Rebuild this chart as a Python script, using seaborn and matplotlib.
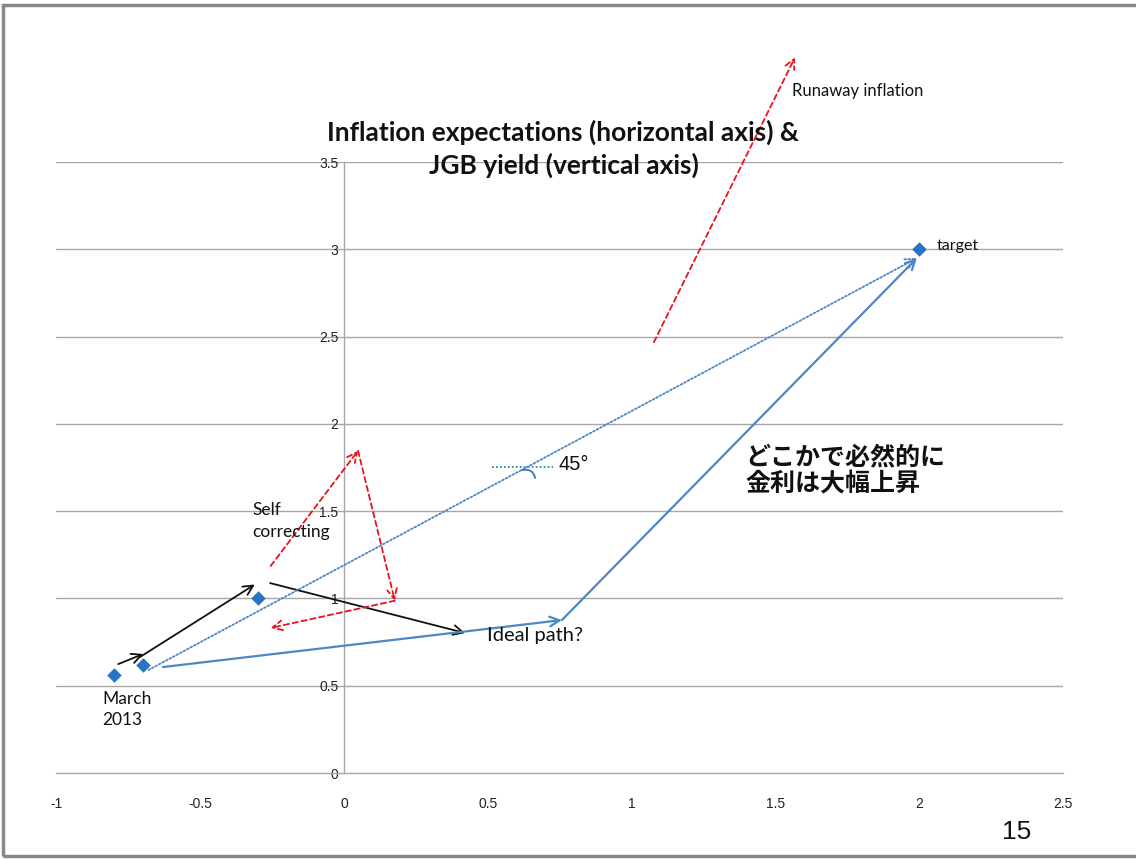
import matplotlib
matplotlib.use("Agg")
import matplotlib.pyplot as plt
import seaborn as sns
import pandas as pd
from matplotlib.patches import Rectangle

# Observed / target points: inflation expectations (x) vs JGB yield (y)
point_x = [-0.8, -0.7, -0.3, 2.0]
point_y = [0.56, 0.62, 1.0, 3.0]

# Black arrows: the stepwise move of expectations and yields
black_start = [(-0.785, 0.624), (-0.71, 0.664), (-0.257, 1.088)]
black_end = [(-0.698, 0.682), (-0.31, 1.08), (0.421, 0.802)]

# Blue solid path: gradual rise, then the jump in yields toward target
blue_path_x = [-0.63, 0.758, 1.993]
blue_path_y = [0.607, 0.876, 2.95]

# Blue dotted 45-degree line toward target
dotted_start = (-0.68, 0.59)
dotted_end = (1.993, 2.95)

# Red dashed arrows: self-correcting loop and runaway inflation
red_start = [(-0.255, 1.186), (0.049, 1.846), (0.177, 0.987), (1.078, 2.468)]
red_end = [(0.049, 1.846), (0.177, 0.987), (-0.255, 0.831), (1.569, 4.10)]

# 45-degree marker
marker45_x = [0.515, 0.727]
marker45_y = [1.752, 1.752]

x_ticks = [-1, -0.5, 0, 0.5, 1, 1.5, 2, 2.5]
x_tick_labels = ["-1", "-0.5", "0", "0.5", "1", "1.5", "2", "2.5"]
y_ticks = [0, 0.5, 1, 1.5, 2, 2.5, 3, 3.5]
y_tick_labels = ["0", "0.5", "1", "1.5", "2", "2.5", "3", "3.5"]

title_lines = ["Inflation expectations (horizontal axis) &", "JGB yield (vertical axis)"]

sns.set_style("white")
plt.rcParams["font.family"] = ["Lato", "DejaVu Sans"]

fig = plt.figure(figsize=(11.36, 8.59), dpi=100)
ax = fig.add_axes([0.0497, 0.1001, 0.8858, 0.7113])

df = pd.DataFrame({"x": point_x, "y": point_y})
sns.scatterplot(data=df, x="x", y="y", marker="D", s=55, color="#2773c4",
                edgecolor="#2773c4", linewidth=0, ax=ax, zorder=5, clip_on=False)

ax.set_xlim(-1, 2.5)
ax.set_ylim(0, 3.5)
ax.set_xticks(x_ticks)
ax.set_xticklabels(x_tick_labels)
ax.set_yticks(y_ticks)
ax.set_yticklabels(y_tick_labels)
ax.set_xlabel("")
ax.set_ylabel("")

grid_col = "#a6a6a6"
for yv in y_ticks[1:]:
    ax.axhline(yv, color=grid_col, lw=1.0, zorder=0)
ax.spines["top"].set_visible(False)
ax.spines["right"].set_visible(False)
ax.spines["left"].set_position(("data", 0))
ax.spines["left"].set_color(grid_col)
ax.spines["bottom"].set_color(grid_col)
ax.spines["left"].set_linewidth(1.0)
ax.spines["bottom"].set_linewidth(1.0)
ax.tick_params(axis="x", direction="out", length=5, width=1, color=grid_col,
               labelsize=10, pad=12, labelcolor="#222222")
ax.tick_params(axis="y", direction="out", length=0, labelsize=10, pad=4,
               labelcolor="#222222")
for lab in ax.get_xticklabels() + ax.get_yticklabels():
    lab.set_family(["Liberation Sans Narrow", "Liberation Sans", "DejaVu Sans"])


def arrow(ax, start, end, color, ls="-", lw=1.3):
    ax.annotate("", xy=end, xytext=start, xycoords="data", textcoords="data",
                annotation_clip=False,
                arrowprops=dict(arrowstyle="->,head_length=0.7,head_width=0.35",
                                color=color, lw=lw, linestyle=ls,
                                shrinkA=0, shrinkB=0))


for s, e in zip(black_start, black_end):
    arrow(ax, s, e, "#111111", lw=1.3)

blue = "#4f86c6"
arrow(ax, (blue_path_x[0], blue_path_y[0]), (blue_path_x[1], blue_path_y[1]), blue, lw=1.6)
arrow(ax, (blue_path_x[1], blue_path_y[1]), (blue_path_x[2], blue_path_y[2]), blue, lw=1.6)

arrow(ax, dotted_start, dotted_end, "#4a86c4", ls=(0, (1, 1.2)), lw=1.3)

for s, e in zip(red_start, red_end):
    arrow(ax, s, e, "#e8121a", ls=(0, (3, 2)), lw=1.3)

ax.plot(marker45_x, marker45_y, color="#2a8a9a", lw=1.3, ls=(0, (1, 1.2)))
ax.annotate("", xy=(0.665, 1.69), xytext=(0.62, 1.735), xycoords="data",
            arrowprops=dict(arrowstyle="-", color="#3a74b8", lw=1.3,
                            connectionstyle="arc3,rad=-0.5", shrinkA=0, shrinkB=0))

# Text annotations
ax.text(0.745, 1.765, "45°", fontsize=14.5, ha="left", va="center",
        family=["Liberation Sans", "DejaVu Sans"], color="#111111")
ax.text(2.06, 3.02, "target", fontsize=11.5, ha="left", va="center", color="#111111")
ax.text(-0.84, 0.47, "March\n2013", fontsize=12.5, ha="left", va="top",
        color="#111111", linespacing=1.4)
ax.text(-0.32, 1.55, "Self\ncorrecting", fontsize=12.5, ha="left", va="top",
        color="#111111", linespacing=1.4)
ax.text(0.497, 0.79, "Ideal path?", fontsize=14.5, ha="left", va="center", color="#111111")
ax.text(1.395, 1.73, "どこかで必然的に\n金利は大幅上昇", fontsize=18, fontweight="bold",
        ha="left", va="center", color="#111111", linespacing=1.15,
        family=["Noto Sans CJK JP", "DejaVu Sans"])

fig.text(0.697, 0.894, "Runaway inflation", fontsize=12, ha="left", va="center",
         color="#111111")
fig.text(0.496, 0.846, title_lines[0], fontsize=19, fontweight="bold",
         ha="center", va="center", color="#111111")
fig.text(0.496, 0.808, title_lines[1], fontsize=19, fontweight="bold",
         ha="center", va="center", color="#111111")
fig.text(0.895, 0.031, "15", fontsize=19, ha="center", va="center",
         family=["Liberation Sans", "DejaVu Sans"], color="#111111")

# Slide frame
fig.patches.append(Rectangle((0.003, 0.004), 1.2, 0.99, transform=fig.transFigure,
                             fill=False, edgecolor="#888888", lw=2.5))

fig.savefig("out.png", dpi=100)
